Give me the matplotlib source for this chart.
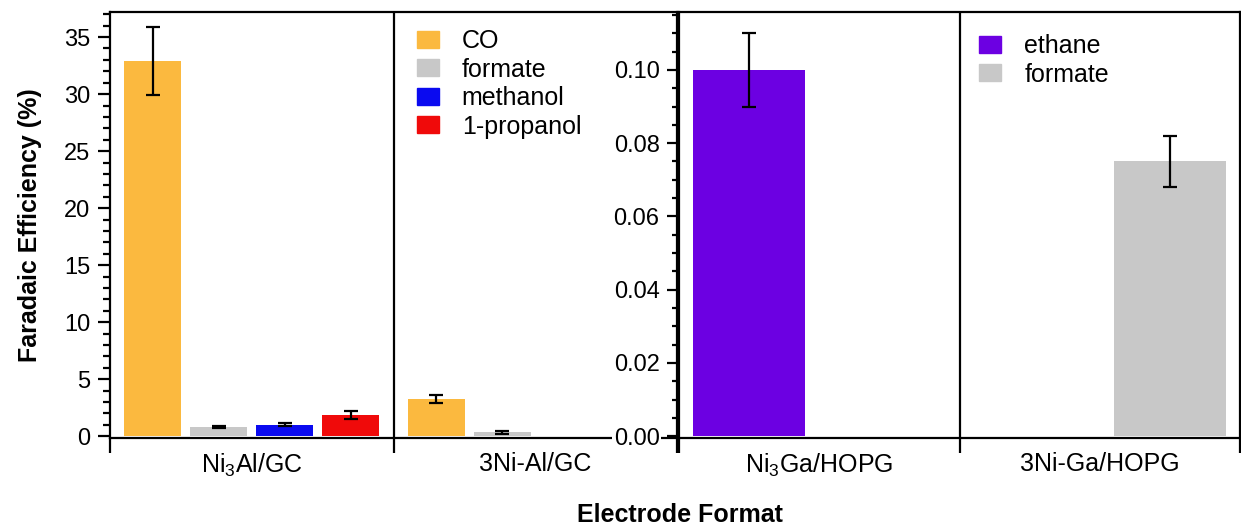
import numpy as np
import matplotlib
matplotlib.use('Agg')
import matplotlib.pyplot as plt
from matplotlib.ticker import MultipleLocator, FormatStrFormatter
from matplotlib.patches import Patch

plt.rcParams['font.family'] = ['Liberation Sans', 'DejaVu Sans']
plt.rcParams['mathtext.default'] = 'regular'

# left panel (Al electrodes)
al_electrodes = ['Ni$_3$Al/GC', '3Ni-Al/GC']
al_products = ['CO', 'formate', 'methanol', '1-propanol']
co_fe = [32.9, 3.25]
co_err = [3.0, 0.34]
formate_fe = [0.8, 0.35]
formate_err = [0.06, 0.12]
methanol_fe = [1.03, np.nan]
methanol_err = [0.15, np.nan]
propanol_fe = [1.9, np.nan]
propanol_err = [0.35, np.nan]

# right panel (Ga electrodes)
ga_electrodes = ['Ni$_3$Ga/HOPG', '3Ni-Ga/HOPG']
ga_products = ['ethane', 'formate']
ethane_fe = [0.100, np.nan]
ethane_err = [0.010, np.nan]
ga_formate_fe = [np.nan, 0.075]
ga_formate_err = [np.nan, 0.007]

al_colors = ['#FBB93F', '#C8C8C8', '#0A0AF0', '#F00A0A']
ga_colors = ['#6C00E2', '#C8C8C8']

fs = 17      # y tick labels
fs_big = 18  # category labels, legends, axis titles
lw = 1.6

fig = plt.figure(figsize=(12.41, 5.27), dpi=100)
ax1 = fig.add_axes([110/1241, 1-438/527, 567/1241, 426/527])
ax2 = fig.add_axes([679/1241, 1-438/527, 561/1241, 426/527])


def style_axis(ax, labels):
    x = np.arange(len(labels))
    ax.set_xlim(-0.5, len(labels) - 0.5)
    # boundary ticks (no labels) and centred labels as minor ticks
    ax.set_xticks(np.arange(len(labels) + 1) - 0.5)
    ax.set_xticklabels([''] * (len(labels) + 1))
    ax.set_xticks(x, minor=True)
    ax.set_xticklabels(labels, minor=True, fontsize=fs_big)
    ax.tick_params(axis='x', which='major', direction='out', length=11, width=lw)
    ax.tick_params(axis='x', which='minor', length=0, pad=10)
    ax.tick_params(axis='y', which='major', direction='out', length=9, width=lw,
                   labelsize=fs, pad=5)
    ax.tick_params(axis='y', which='minor', direction='out', length=5, width=lw)
    for b in np.arange(1, len(labels)) - 0.5:
        ax.axvline(b, color='black', lw=lw)
    for s in ax.spines.values():
        s.set_linewidth(lw)


def add_legend(ax, colors, names, x, y):
    handles = [Patch(color=c) for c in colors]
    ax.legend(handles, names, loc='upper left', bbox_to_anchor=(x, y),
              frameon=False, fontsize=fs_big, handlelength=0.88, handleheight=0.68,
              handletextpad=0.92, labelspacing=0.18, borderpad=0, borderaxespad=0)


# left panel bars
x1 = np.arange(len(al_electrodes))
step = 0.233
al_vals = [co_fe, formate_fe, methanol_fe, propanol_fe]
al_errs = [co_err, formate_err, methanol_err, propanol_err]
for i, (vals, errs) in enumerate(zip(al_vals, al_errs)):
    pos = x1 + (i - 1.5) * step
    ax1.bar(pos, vals, 0.2, color=al_colors[i])
    ax1.errorbar(pos, vals, yerr=errs, fmt='none', ecolor='black',
                 elinewidth=lw, capsize=5, capthick=lw)
style_axis(ax1, al_electrodes)
ax1.set_ylim(-0.15, 37.2)
ax1.yaxis.set_major_locator(MultipleLocator(5))
ax1.yaxis.set_minor_locator(MultipleLocator(1))
ax1.set_ylabel('Faradaic Efficiency (%)', fontsize=fs_big, fontweight='bold', labelpad=16)
add_legend(ax1, al_colors, al_products, 0.541, 0.96)

# right panel bars
x2 = np.arange(len(ga_electrodes))
ga_vals = [ethane_fe, ga_formate_fe]
ga_errs = [ethane_err, ga_formate_err]
for i, (vals, errs) in enumerate(zip(ga_vals, ga_errs)):
    pos = x2 + (i - 0.5) * 0.5
    ax2.bar(pos, vals, 0.4, color=ga_colors[i])
    ax2.errorbar(pos, vals, yerr=errs, fmt='none', ecolor='black',
                 elinewidth=lw, capsize=5, capthick=lw)
style_axis(ax2, ga_electrodes)
ax2.set_ylim(-0.0005, 0.1158)
ax2.yaxis.set_major_locator(MultipleLocator(0.02))
ax2.yaxis.set_minor_locator(MultipleLocator(0.005))
ax2.yaxis.set_major_formatter(FormatStrFormatter('%.2f'))
for lbl in ax2.get_yticklabels():
    lbl.set_bbox(dict(facecolor='white', edgecolor='none', pad=1))
add_legend(ax2, ga_colors, ga_products, 0.535, 0.948)

fig.text(680/1241, 1-515/527, 'Electrode Format', fontsize=fs_big, fontweight='bold',
         ha='center', va='center')

fig.savefig('out.png', dpi=100)
